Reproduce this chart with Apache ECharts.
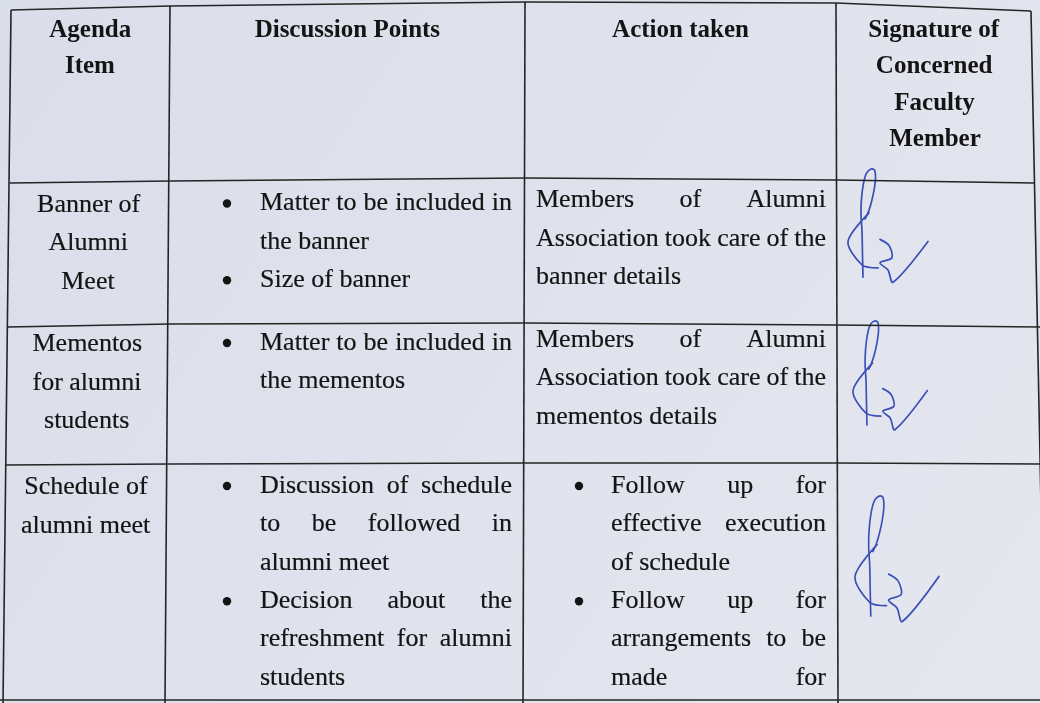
<!DOCTYPE html>
<html><head><meta charset="utf-8">
<script src="https://cdn.jsdelivr.net/npm/echarts@6/dist/echarts.min.js"></script>
<style>html,body{margin:0;padding:0;background:#dfe2ec}#c{width:1040px;height:703px}</style>
</head><body><div id="c"></div>
<script>
// ---------- DATA ----------
const headers = [['Agenda', 'Item'], ['Discussion Points'], ['Action taken'], ['Signature of', 'Concerned', 'Faculty', 'Member']];
const agendaItems = [['Banner of', 'Alumni', 'Meet'], ['Mementos', 'for alumni', 'students'], ['Schedule of', 'alumni meet']];
const discussionPoints = [
  [['Matter to be included in', 'the banner'], ['Size of banner']],
  [['Matter to be included in', 'the mementos']],
  [['Discussion of schedule', 'to be followed in', 'alumni meet'], ['Decision about the', 'refreshment for alumni', 'students']]
];
const actionsBulleted = [false, false, true];
const actionsTaken = [
  [['Members of Alumni', 'Association took care of the', 'banner details']],
  [['Members of Alumni', 'Association took care of the', 'mementos details']],
  [['Follow up for', 'effective execution', 'of schedule'], ['Follow up for', 'arrangements to be', 'made for']]
];
const rowContinues = [false, false, true];   // last row runs on past the page edge
const signed = [true, true, true];

// ---------- LAYOUT ----------
const FAMILY = '"Liberation Serif","Times New Roman",serif';
const BODY = 26, HEAD = 25;
const INK = '#141414', RULE = '#252525', PEN = '#3a4fb8';
const vLines = [[[11, 10], [3, 703]], [[170, 6], [165, 703]], [[525, 2], [523, 703]], [[836, 3], [838, 703]], [[1031, 11], [1045, 703]]];
const hLines = [
  [[11, 10], [170, 6], [525, 2], [836, 3], [1031, 11]],
  [[10, 183], [170, 181], [525, 178], [836, 180], [1034, 183]],
  [[8, 327], [170, 324], [525, 323], [836, 325], [1040, 327]],
  [[5, 465], [170, 464], [525, 463], [836, 463], [1042, 464]],
  [[0, 700], [1040, 700]]
];
const headTop = 30.5, headStep = 36.5;
const rowTop = [203.5, 343, 486], step = 38.4;
const colDy = [1.5, 0, -3];
const col2 = {bullet: 227, x: 260, w: 252};
const col3 = {x: 536, w: 290, bullet: 579, bx: 611, bw: 215};
const sigPos = [[848, 168, 1, 1.02], [853, 320, 0.93, 0.98], [855, 495, 1.05, 1.13]];
const sigStrokes = [
  [[15,107],[14.5,85],[14,62],[13,45],[13.5,30],[15.5,15],[18.5,5],[23,1],[26.5,2],[27.5,10],[26,22],[23,35],[20,44],[17,50]],
  [[21,44],[0,72],[14,95],[30,98]],
  [[32,70],[41,76],[44,88],[32,93],[40,100],[45,112],[80,72]]
];

// ---------- BUILD ----------
const ctx = document.createElement('canvas').getContext('2d');
function font(size, weight) { return (weight || 'normal') + ' ' + size + 'px ' + FAMILY; }
function measure(t, size, weight) { ctx.font = font(size, weight); return ctx.measureText(t).width; }
function xAt(l, y) { const [[x1, y1], [x2, y2]] = l; return x1 + (x2 - x1) * (y - y1) / (y2 - y1); }
const els = [];
function txt(x, y, s, size, weight, align) {
  const st = {text: s, fill: INK, font: font(size, weight), textAlign: align || 'left', align: align || 'left',
    textVerticalAlign: 'middle', verticalAlign: 'middle'};
  if (weight !== 'bold') { st.stroke = INK; st.lineWidth = 0.2; }
  els.push({type: 'text', x: x, y: y, silent: true, style: st});
}
function line(x0, w, y, s, justify) {
  const words = s.split(' ');
  if (!justify || words.length < 2) { txt(x0, y, s, BODY); return; }
  const ws = words.map(t => measure(t, BODY));
  const gap = (w - ws.reduce((a, b) => a + b, 0)) / (words.length - 1);
  let x = x0;
  words.forEach((t, i) => { txt(x, y, t, BODY); x += ws[i] + gap; });
}
function bullet(x, y) {
  els.push({type: 'circle', silent: true, shape: {cx: x, cy: y, r: 4.2}, style: {fill: INK}});
}
function paragraphs(paras, y0, box, withBullets, continues) {
  let k = 0;
  paras.forEach((p, pi) => {
    p.forEach((s, li) => {
      const y = y0 + k * step;
      if (withBullets && li === 0) bullet(box.bullet, y);
      const last = li === p.length - 1 && !(continues && pi === paras.length - 1);
      line(withBullets ? box.bx || box.x : box.x, withBullets ? box.bw || box.w : box.w, y, s, !last);
      k++;
    });
  });
}

// header
headers.forEach((h, c) => {
  h.forEach((s, i) => {
    const y = headTop + i * headStep;
    const cx = (xAt(vLines[c], y) + xAt(vLines[c + 1], y)) / 2;
    txt(cx, y, s, HEAD, 'bold', 'center');
  });
});
// body rows
agendaItems.forEach((item, r) => {
  item.forEach((s, i) => {
    const y = rowTop[r] + colDy[0] + i * step;
    const cx = (xAt(vLines[0], y) + xAt(vLines[1], y)) / 2;
    txt(cx, y, s, BODY, 'normal', 'center');
  });
  paragraphs(discussionPoints[r], rowTop[r] + colDy[1], col2, true, rowContinues[r]);
  paragraphs(actionsTaken[r], rowTop[r] + (actionsBulleted[r] ? 0 : colDy[2]), col3, actionsBulleted[r], rowContinues[r]);
  if (signed[r]) {
    const [sx, sy, kx, ky] = sigPos[r];
    sigStrokes.forEach(pts => els.push({type: 'polyline', silent: true, x: sx, y: sy, scaleX: kx, scaleY: ky,
      shape: {points: pts, smooth: 0.3},
      style: {stroke: PEN, fill: null, lineWidth: 1.7, lineJoin: 'round', lineCap: 'round', strokeNoScale: true}}));
  }
});
// rules
vLines.forEach(l => els.push({type: 'polyline', silent: true, shape: {points: l}, style: {stroke: RULE, lineWidth: 1.6, fill: null}}));
hLines.forEach(l => els.push({type: 'polyline', silent: true, shape: {points: l}, style: {stroke: RULE, lineWidth: 1.6, fill: null}}));

const chart = echarts.init(document.getElementById('c'), null, {renderer: 'canvas'});
chart.setOption({
  backgroundColor: {type: 'linear', x: 0, y: 0, x2: 1, y2: 1,
    colorStops: [{offset: 0, color: '#dadeea'}, {offset: 1, color: '#e5e7ef'}]},
  animation: false,
  graphic: {elements: els}
});
</script></body></html>
